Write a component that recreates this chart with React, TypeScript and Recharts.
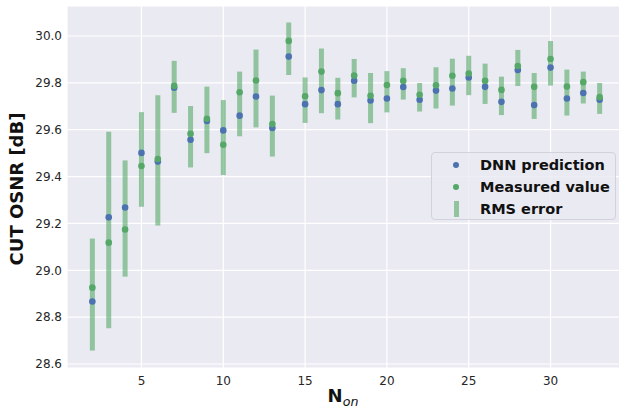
import React from 'react';
import { ComposedChart, Scatter, XAxis, YAxis, CartesianGrid, ErrorBar, Legend } from 'recharts';

// Number of active channels, one point per value
const N_ON = [2, 3, 4, 5, 6, 7, 8, 9, 10, 11, 12, 13, 14, 15, 16, 17, 18, 19, 20, 21, 22, 23, 24, 25, 26, 27, 28, 29, 30, 31, 32, 33];

// CUT OSNR [dB] predicted by the DNN
const DNN_PREDICTION = [
  28.867, 29.226, 29.268, 29.501, 29.464, 29.779, 29.557, 29.637, 29.597, 29.660, 29.742,
  29.607, 29.912, 29.709, 29.769, 29.709, 29.809, 29.725, 29.733, 29.782, 29.728,
  29.767, 29.776, 29.823, 29.783, 29.719, 29.855, 29.705, 29.865, 29.733, 29.757, 29.728,
];

// CUT OSNR [dB] measured
const MEASURED_VALUE = [
  28.926, 29.118, 29.174, 29.445, 29.475, 29.787, 29.583, 29.647, 29.536, 29.760, 29.810,
  29.624, 29.979, 29.743, 29.848, 29.756, 29.831, 29.745, 29.791, 29.809, 29.749,
  29.790, 29.830, 29.840, 29.809, 29.770, 29.872, 29.783, 29.902, 29.784, 29.803, 29.739,
];

// RMS error half-width [dB]
const RMS_ERROR = [
  0.239, 0.419, 0.248, 0.202, 0.278, 0.111, 0.131, 0.142, 0.160, 0.138, 0.166,
  0.130, 0.112, 0.097, 0.138, 0.089, 0.082, 0.107, 0.088, 0.067, 0.061,
  0.088, 0.100, 0.084, 0.086, 0.082, 0.077, 0.098, 0.095, 0.098, 0.068, 0.066,
];

const X_TICKS = [5, 10, 15, 20, 25, 30];
const Y_TICKS = [28.6, 28.8, 29.0, 29.2, 29.4, 29.6, 29.8, 30.0];

const BLUE = '#4C72B0';
const GREEN = '#55A868';
const BAR_GREEN = 'rgba(85,168,104,0.6)';
const BG = '#EAEAF2';
const FONT = '"DejaVu Sans", sans-serif';

const data = N_ON.map((n, i) => ({
  n,
  dnn: DNN_PREDICTION[i],
  measured: MEASURED_VALUE[i],
  center: (DNN_PREDICTION[i] + MEASURED_VALUE[i]) / 2,
  rms: RMS_ERROR[i],
}));

const dot = (color: string) => (props: any) =>
  <circle cx={props.cx} cy={props.cy} r={3.3} fill={color} />;

const YAxisTitle = () => (
  <text
    x={23}
    y={189}
    transform="rotate(-90 23 189)"
    textAnchor="middle"
    fontFamily={FONT}
    fontWeight="bold"
    fontSize={18}
    fill="#111"
  >
    CUT OSNR [dB]
  </text>
);

const XAxisTitle = () => (
  <text x={343} y={401.5} textAnchor="middle" fontFamily={FONT} fill="#111">
    <tspan fontWeight="bold" fontSize={18}>N</tspan>
    <tspan fontStyle="italic" fontSize={12.6} dy={4}>on</tspan>
  </text>
);

const legendItems = [
  { label: 'DNN prediction', kind: 'dot', color: BLUE },
  { label: 'Measured value', kind: 'dot', color: GREEN },
  { label: 'RMS error', kind: 'bar', color: BAR_GREEN },
];

const LegendBox = () => (
  <div
    style={{
      width: 185,
      height: 68,
      boxSizing: 'border-box',
      border: '1px solid #d2d2da',
      borderRadius: 4,
      background: 'rgba(234,234,242,0.8)',
      fontFamily: FONT,
      fontWeight: 'bold',
      fontSize: 14.5,
      color: '#111',
      paddingTop: 1,
    }}
  >
    {legendItems.map(item => (
      <div key={item.label} style={{ display: 'flex', alignItems: 'center', height: 22 }}>
        <div style={{ width: 48, display: 'flex', justifyContent: 'center' }}>
          {item.kind === 'dot' ? (
            <span style={{ width: 6, height: 6, borderRadius: 3, background: item.color, display: 'block' }} />
          ) : (
            <span style={{ width: 5, height: 16, background: item.color, display: 'block' }} />
          )}
        </div>
        <span style={{ whiteSpace: 'nowrap' }}>{item.label}</span>
      </div>
    ))}
  </div>
);

export default function App() {
  return (
    <div style={{ position: 'fixed', left: 0, top: 0, width: 619, height: 409, overflow: 'hidden', background: '#fff' }}>
      <ComposedChart width={625} height={409} data={data} margin={{ top: 6, right: 0, bottom: 0, left: 0 }}>
        <CartesianGrid stroke="#fff" strokeWidth={1.2} fill={BG} />
        <XAxis
          dataKey="n"
          type="number"
          domain={[0.45, 34.55]}
          ticks={X_TICKS}
          allowDataOverflow
          axisLine={false}
          tickLine={false}
          tickSize={0}
          tickMargin={8}
          height={41}
          tick={{ fill: '#262626', fontSize: 12, fontFamily: FONT }}
          label={<XAxisTitle />}
        />
        <YAxis
          type="number"
          domain={[28.583, 30.128]}
          ticks={Y_TICKS}
          allowDataOverflow
          axisLine={false}
          tickLine={false}
          tickSize={0}
          tickMargin={5}
          width={67}
          tickFormatter={(v: number) => v.toFixed(1)}
          tick={{ fill: '#262626', fontSize: 12, fontFamily: FONT }}
          label={<YAxisTitle />}
        />
        <Scatter dataKey="center" shape={() => <g />} isAnimationActive={false} legendType="none">
          <ErrorBar dataKey="rms" direction="y" width={0} stroke={BAR_GREEN} strokeWidth={5} isAnimationActive={false} />
        </Scatter>
        <Scatter dataKey="dnn" shape={dot(BLUE)} isAnimationActive={false} />
        <Scatter dataKey="measured" shape={dot(GREEN)} isAnimationActive={false} />
        <Legend
          layout="horizontal"
          verticalAlign="middle"
          align="center"
          content={<LegendBox />}
          wrapperStyle={{ left: 431, top: 152, width: 185, height: 68 }}
        />
      </ComposedChart>
    </div>
  );
}
